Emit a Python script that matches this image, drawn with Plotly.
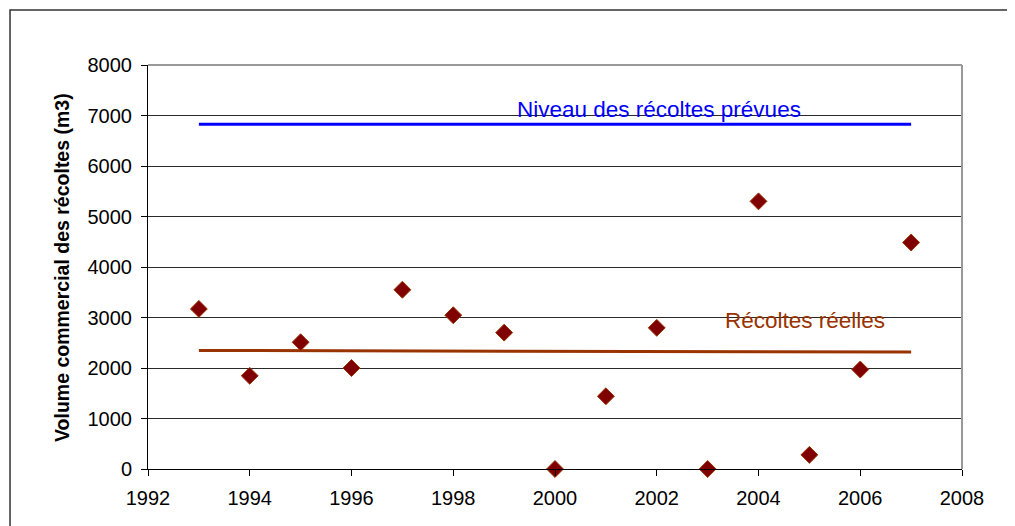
import plotly.graph_objects as go

years = [1993, 1994, 1995, 1996, 1997, 1998, 1999, 2000, 2001, 2002, 2003, 2004, 2005, 2006, 2007]
recoltes = [3170, 1845, 2510, 2000, 3550, 3045, 2700, 0, 1440, 2795, 0, 5300, 280, 1970, 4485]
prevues_x = [1993, 2007]
prevues_y = [6825, 6825]
tendance_x = [1993, 2007]
tendance_y = [2348, 2315]
y_ticks = [0, 1000, 2000, 3000, 4000, 5000, 6000, 7000, 8000]
x_ticks = [1992, 1994, 1996, 1998, 2000, 2002, 2004, 2006, 2008]

FONT = "Liberation Sans, Arial, sans-serif"
BROWN = "#993300"

fig = go.Figure()
fig.add_trace(go.Scatter(x=prevues_x, y=prevues_y, mode="lines",
                         line=dict(color="#0000ff", width=3), showlegend=False))
fig.add_trace(go.Scatter(x=tendance_x, y=tendance_y, mode="lines",
                         line=dict(color=BROWN, width=3), showlegend=False))
fig.add_trace(go.Scatter(x=years, y=recoltes, mode="markers",
                         marker=dict(symbol="diamond", size=13, color="#800000",
                                     line=dict(color=BROWN, width=1)),
                         showlegend=False, cliponaxis=False))

fig.update_layout(
    width=1007, height=518,
    margin=dict(l=140, r=53, t=57, b=57),
    paper_bgcolor="white", plot_bgcolor="white",
    font=dict(family=FONT, size=20, color="black"),
    xaxis=dict(range=[1992, 2008], tickvals=x_ticks, showgrid=False, zeroline=False,
               showline=True, linecolor="black", linewidth=1,
               ticks="outside", ticklen=6, tickcolor="black", ticklabelstandoff=5,
               tickfont=dict(size=20, family=FONT)),
    yaxis=dict(range=[0, 8000], tickvals=y_ticks, showgrid=True, gridcolor="#2a2a2a",
               gridwidth=1, zeroline=False, showline=True, linecolor="black", linewidth=1,
               ticks="outside", ticklen=6, tickcolor="black", ticklabelstandoff=5,
               tickfont=dict(size=20, family=FONT)),
    shapes=[
        dict(type="line", xref="paper", yref="paper", x0=0, x1=1, y0=1, y1=1,
             line=dict(color="#999999", width=2)),
        dict(type="line", xref="paper", yref="paper", x0=1, x1=1, y0=0, y1=1,
             line=dict(color="#999999", width=2)),
        dict(type="rect", xref="paper", yref="paper", x0=-0.1695, x1=1.1,
             y0=-0.3, y1=1.136, line=dict(color="#333333", width=1.5), layer="below"),
    ],
    annotations=[
        dict(text="Volume commercial des récoltes (m3)", xref="paper", yref="paper",
             x=-0.1057, y=0.5, xanchor="center", yanchor="middle",
             textangle=-90, showarrow=False,
             font=dict(family=FONT, size=19.5, color="black", weight="bold")),
        dict(text="Niveau des récoltes prévues", x=2002.04, y=7110, xref="x", yref="y",
             showarrow=False, font=dict(family=FONT, size=22.5, color="#0000ff")),
        dict(text="Récoltes réelles", x=2004.91, y=2950, xref="x", yref="y",
             showarrow=False, font=dict(family=FONT, size=22.5, color=BROWN)),
    ],
)

fig.write_html("out.html")
